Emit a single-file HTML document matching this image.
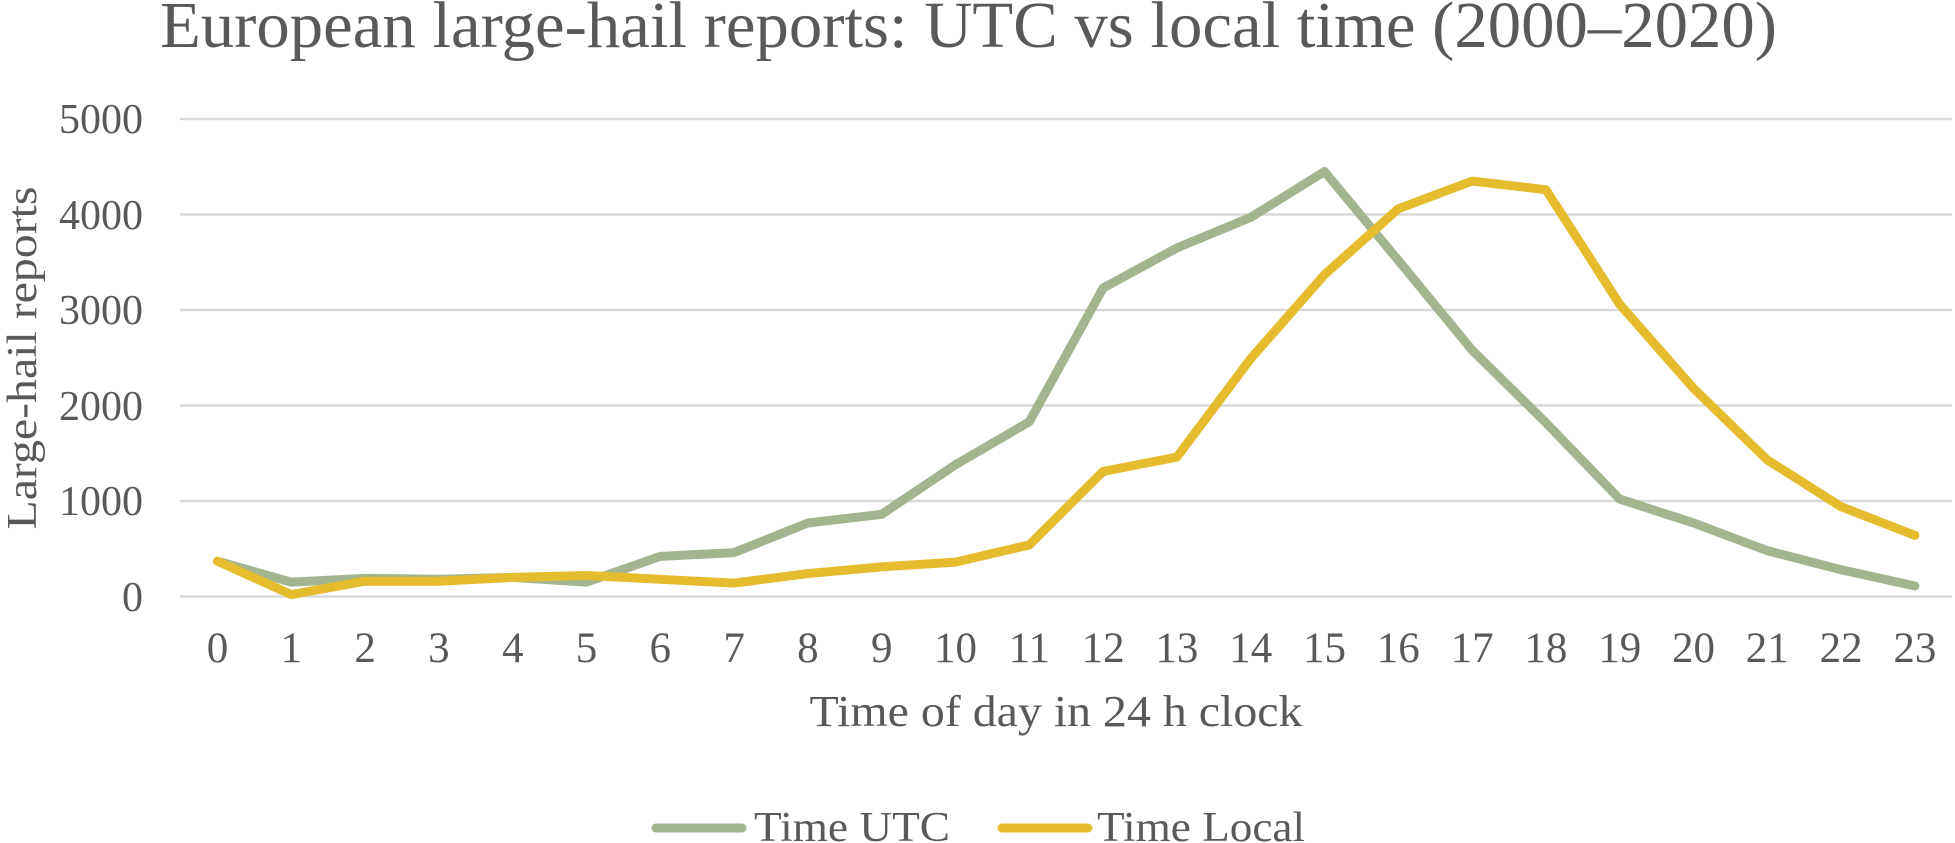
<!DOCTYPE html>
<html><head><meta charset="utf-8"><style>
html,body{margin:0;padding:0;background:#fff;}
svg{display:block;}
text{font-family:"Liberation Serif",serif;fill:#595959;}
</style></head><body>
<svg width="1955" height="843" viewBox="0 0 1955 843" xmlns="http://www.w3.org/2000/svg">
<text x="160" y="47" font-size="66" textLength="1617" lengthAdjust="spacingAndGlyphs">European large-hail reports: UTC vs local time (2000–2020)</text>
<g stroke="#d9d9d9" stroke-width="2.5">
<line x1="180" y1="119" x2="1952" y2="119"/>
<line x1="180" y1="214.5" x2="1952" y2="214.5"/>
<line x1="180" y1="310" x2="1952" y2="310"/>
<line x1="180" y1="405.5" x2="1952" y2="405.5"/>
<line x1="180" y1="501" x2="1952" y2="501"/>
<line x1="180" y1="596.5" x2="1952" y2="596.5"/>
</g>
<g font-size="42" text-anchor="end">
<text x="143" y="133">5000</text>
<text x="143" y="229">4000</text>
<text x="143" y="324">3000</text>
<text x="143" y="420">2000</text>
<text x="143" y="515">1000</text>
<text x="143" y="611">0</text>
</g>
<g font-size="43" text-anchor="middle" id="xt"></g>
<text transform="translate(36,358) rotate(-90)" font-size="42" text-anchor="middle" textLength="343" lengthAdjust="spacingAndGlyphs">Large-hail reports</text>
<text x="1056" y="726" font-size="44" text-anchor="middle" textLength="493" lengthAdjust="spacingAndGlyphs">Time of day in 24 h clock</text>
<line x1="656" y1="828" x2="742" y2="828" stroke="#a3b58f" stroke-width="9" stroke-linecap="round"/>
<text x="754" y="841" font-size="42" textLength="196" lengthAdjust="spacingAndGlyphs">Time UTC</text>
<line x1="1002" y1="828" x2="1088" y2="828" stroke="#e6bc2f" stroke-width="9" stroke-linecap="round"/>
<text x="1097" y="841" font-size="42" textLength="208" lengthAdjust="spacingAndGlyphs">Time Local</text>
<g id="series"></g>
</svg>
<script>
var X=function(i){return 217.5+73.8*i;}, Y=function(v){return 596.5-v*0.0955;};
var utc=[370,150,190,180,200,150,420,460,770,860,1380,1830,3230,3650,3970,4450,3520,2580,1820,1020,770,480,280,110];
var loc=[370,20,160,160,200,220,180,140,240,310,360,540,1310,1460,2490,3370,4060,4350,4260,3060,2180,1430,940,640];
var ns="http://www.w3.org/2000/svg";
var xt=document.getElementById('xt');
for(var i=0;i<24;i++){var t=document.createElementNS(ns,'text');t.setAttribute('x',X(i));t.setAttribute('y',662);t.textContent=i;xt.appendChild(t);}
function pl(d,c){var p=document.createElementNS(ns,'polyline');p.setAttribute('points',d.map(function(v,i){return X(i)+','+Y(v);}).join(' '));p.setAttribute('fill','none');p.setAttribute('stroke',c);p.setAttribute('stroke-width','9');p.setAttribute('stroke-linejoin','round');p.setAttribute('stroke-linecap','round');document.getElementById('series').appendChild(p);}
pl(utc,'#a3b58f');pl(loc,'#e6bc2f');
</script>
</body></html>
